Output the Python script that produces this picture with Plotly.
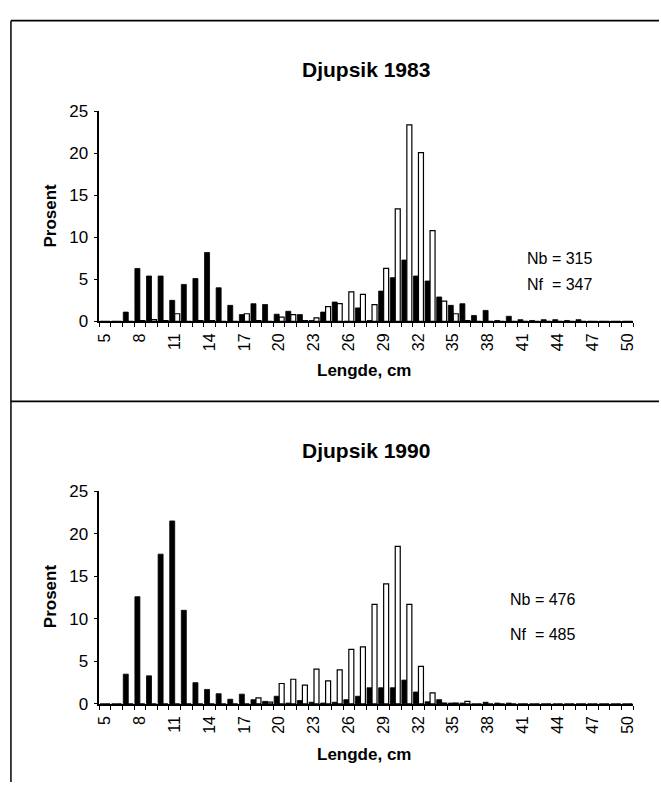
import plotly.graph_objects as go

W, H = 661, 792

lengths = list(range(5, 51))
tick_labels = [str(v) for v in range(5, 51, 3)]

# Djupsik 1983
nb_1983 = [0, 0, 1.1, 6.3, 5.4, 5.4, 2.5, 4.4, 5.1, 8.2, 4.0, 1.9, 0.8, 2.1, 2.0, 0.85,
           1.2, 0.8, 0.1, 1.1, 2.3, 0, 1.6, 0.1, 3.6, 5.2, 7.3, 5.4, 4.8, 2.9, 1.9, 2.1,
           0.7, 1.3, 0.1, 0.6, 0.2, 0.1, 0.2, 0.2, 0.1, 0.2, 0, 0, 0, 0]
nf_1983 = [0, 0, 0, 0.1, 0.2, 0.1, 0.9, 0, 0.1, 0.1, 0, 0, 0.9, 0.1, 0, 0.5,
           0.8, 0.1, 0.4, 1.75, 2.1, 3.5, 3.2, 2.0, 6.3, 13.4, 23.4, 20.1, 10.8, 2.4, 0.9, 0.1,
           0, 0, 0, 0, 0, 0, 0, 0, 0, 0, 0, 0, 0, 0]

# Djupsik 1990
nb_1990 = [0, 0, 3.5, 12.6, 3.3, 17.6, 21.5, 11.0, 2.5, 1.7, 1.2, 0.55, 1.15, 0.5, 0.3, 0.9,
           0.1, 0.4, 0.2, 0.1, 0.2, 0.5, 0.9, 1.9, 1.9, 1.9, 2.8, 1.4, 0.25, 0.5, 0.1, 0.1,
           0, 0.2, 0.1, 0.1, 0, 0, 0, 0, 0, 0, 0, 0, 0, 0]
nf_1990 = [0, 0, 0, 0, 0, 0, 0, 0, 0, 0, 0, 0, 0, 0.7, 0.2, 2.4,
           2.9, 2.2, 4.1, 2.7, 4.0, 6.4, 6.7, 11.7, 14.1, 18.5, 11.7, 4.4, 1.3, 0.1, 0.1, 0.3,
           0, 0, 0, 0, 0, 0, 0, 0, 0, 0, 0, 0, 0, 0]

panels = [
    dict(title="Djupsik 1983", nb=nb_1983, nf=nf_1983, nb_txt="Nb = 315", nf_txt="Nf  = 347"),
    dict(title="Djupsik 1990", nb=nb_1990, nf=nf_1990, nb_txt="Nb = 476", nf_txt="Nf  = 485"),
]

# pixel layout
X0, X1 = 97, 635
geo = [
    dict(top=105, bottom=320, title_y=62, ytitle_y=212, xtitle_y=370, nb=(526, 256), nf=(526, 282)),
    dict(top=494, bottom=712, title_y=452, ytitle_y=602, xtitle_y=764, nb=(509, 605), nf=(509, 641)),
]

def px(x):
    return x / W

def py(y):
    return 1 - y / H

FONT = "Liberation Sans, Arial, sans-serif"

fig = go.Figure()
annotations = []
for i, (p, g) in enumerate(zip(panels, geo)):
    xa = "x" if i == 0 else "x2"
    ya = "y" if i == 0 else "y2"
    fig.add_trace(go.Bar(x=lengths, y=p["nb"], xaxis=xa, yaxis=ya, name="Nb",
                         marker=dict(color="black", line=dict(color="black", width=0.8))))
    fig.add_trace(go.Bar(x=lengths, y=p["nf"], xaxis=xa, yaxis=ya, name="Nf",
                         marker=dict(color="white", line=dict(color="black", width=1.2))))
    annotations += [
        dict(text="<b>" + p["title"] + "</b>", x=px(366), y=py(g["title_y"]), xref="paper", yref="paper",
             showarrow=False, xanchor="center", yanchor="middle", font=dict(size=21, color="black", family=FONT)),
        dict(text="<b>Prosent</b>", x=px(48), y=py(g["ytitle_y"]), xref="paper", yref="paper",
             showarrow=False, textangle=-90, xanchor="center", yanchor="middle",
             font=dict(size=17, color="black", family=FONT)),
        dict(text="<b>Lengde, cm</b>", x=px(364), y=py(g["xtitle_y"]), xref="paper", yref="paper",
             showarrow=False, xanchor="center", yanchor="middle", font=dict(size=17, color="black", family=FONT)),
        dict(text=p["nb_txt"], x=px(g["nb"][0]), y=py(g["nb"][1]), xref="paper", yref="paper",
             showarrow=False, xanchor="left", yanchor="middle", font=dict(size=16, color="black", family=FONT)),
        dict(text=p["nf_txt"], x=px(g["nf"][0]), y=py(g["nf"][1]), xref="paper", yref="paper",
             showarrow=False, xanchor="left", yanchor="middle", font=dict(size=16, color="black", family=FONT)),
    ]

xaxis_common = dict(
    range=[4.5, 50.5], domain=[px(X0), px(X1)], showline=True, linecolor="black", linewidth=1.5,
    tickmode="array", tickvals=list(range(5, 51, 3)), ticktext=tick_labels, tickangle=-90,
    ticks="outside", ticklen=0, tickcolor="black",
    minor=dict(tickmode="linear", tick0=4.5, dtick=1, ticks="outside", ticklen=4, tickcolor="black", showgrid=False),
    tickfont=dict(size=16, color="black", family=FONT), showgrid=False, zeroline=False, fixedrange=True,
    ticklabelstandoff=4,
)
yaxis_common = dict(
    range=[0, 25], tickvals=[0, 5, 10, 15, 20, 25], showline=True, linecolor="black", linewidth=1.5,
    ticks="outside", ticklen=4, tickcolor="black", tickfont=dict(size=17, color="black", family=FONT),
    showgrid=False, zeroline=False, fixedrange=True, ticklabelstandoff=2,
)

fig.update_layout(
    width=W, height=H, margin=dict(l=0, r=0, t=0, b=0),
    paper_bgcolor="white", plot_bgcolor="white", showlegend=False,
    barmode="group", bargap=0.14, bargroupgap=0.0,
    xaxis=dict(**xaxis_common, anchor="y"),
    yaxis=dict(**yaxis_common, domain=[py(geo[0]["bottom"]), py(geo[0]["top"])], anchor="x"),
    xaxis2=dict(**xaxis_common, anchor="y2"),
    yaxis2=dict(**yaxis_common, domain=[py(geo[1]["bottom"]), py(geo[1]["top"])], anchor="x2"),
    annotations=annotations,
    shapes=[
        dict(type="line", xref="paper", yref="paper", x0=px(8), x1=1, y0=py(12), y1=py(12),
             line=dict(color="black", width=1.8)),
        dict(type="line", xref="paper", yref="paper", x0=px(8), x1=1, y0=py(402), y1=py(402),
             line=dict(color="black", width=1.8)),
        dict(type="line", xref="paper", yref="paper", x0=px(8), x1=px(8), y0=py(12), y1=0,
             line=dict(color="black", width=1.5)),
    ],
)

fig.write_html("out.html")
